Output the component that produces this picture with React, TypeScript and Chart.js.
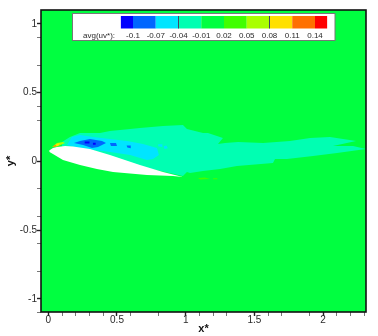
import React, { useEffect, useRef } from "react";
import { Chart, registerables } from "chart.js";

Chart.register(...registerables);

type Pair = [number, number];

// Contour levels and colours
const levelValues = [-0.1, -0.07, -0.04, -0.01, 0.02, 0.05, 0.08, 0.11, 0.14];
const levelLabels = ["-0.1", "-0.07", "-0.04", "-0.01", "0.02", "0.05", "0.08", "0.11", "0.14"];
const bandColors = ["#0000ff", "#0066ff", "#00e5ff", "#00ffb2", "#00ff40", "#40ff00", "#aaff00", "#ffe000", "#ff7000", "#ff0000"];

const xTickValues = [0, 0.1, 0.2, 0.3, 0.4, 0.5, 0.6, 0.8, 1, 1.1, 1.2, 1.3, 1.5, 1.6, 1.7, 1.9, 2, 2.1, 2.2, 2.3];
const yTickValues = [1, 0.9, 0.7, 0.5, 0.4, 0.3, 0, -0.2, -0.4, -0.5, -0.6, -0.8, -1, -1.1];
const xLabelled = [0, 0.5, 1, 1.5, 2];
const yLabelled = [-1, -0.5, 0, 0.5, 1];

const fieldOutline: Pair[] = [[-0.06, -1.11], [2.32, -1.11], [2.32, 1.11], [-0.06, 1.11]];

const mintOutline: Pair[] = [
  [0.1, 0.14], [0.158, 0.177], [0.231, 0.206], [0.376, 0.206], [0.449, 0.22], [0.667, 0.242], [0.835, 0.257],
  [0.98, 0.264], [1.009, 0.235], [1.126, 0.206], [1.162, 0.206], [1.271, 0.17], [1.235, 0.126], [1.286, 0.133],
  [1.381, 0.14], [1.563, 0.133], [1.759, 0.148], [1.905, 0.169], [2.05, 0.177], [2.24, 0.148], [2.072, 0.111],
  [2.218, 0.111], [2.312, 0.089], [2.101, 0.06], [1.927, 0.039], [1.737, 0.017], [1.65, 0.017], [1.635, -0.012],
  [1.373, -0.034], [1.25, -0.056], [1.126, -0.071], [1.031, -0.085], [1.009, -0.078], [0.98, -0.107],
  [0.5, 0.0], [0.1, 0.07],
];
const cyanOutline: Pair[] = [
  [0.136, 0.119], [0.172, 0.177], [0.231, 0.191], [0.325, 0.177], [0.449, 0.162], [0.573, 0.148], [0.689, 0.126],
  [0.791, 0.097], [0.805, 0.046], [0.762, 0.017], [0.718, 0.01], [0.595, 0.046], [0.449, 0.068], [0.231, 0.097],
];
const cyanBlobA: Pair[] = [[0.8, 0.125], [0.83, 0.125], [0.83, 0.105], [0.8, 0.11]];
const cyanBlobB: Pair[] = [[0.84, 0.11], [0.86, 0.115], [0.87, 0.095], [0.845, 0.09]];
const blueMain: Pair[] = [
  [0.187, 0.133], [0.231, 0.148], [0.303, 0.162], [0.391, 0.148], [0.42, 0.133], [0.362, 0.104], [0.318, 0.097], [0.253, 0.119],
];
const blueBlobA: Pair[] = [[0.449, 0.133], [0.493, 0.133], [0.5, 0.111], [0.456, 0.111]];
const blueBlobB: Pair[] = [[0.57, 0.115], [0.6, 0.115], [0.6, 0.095], [0.575, 0.1]];
const deepBlueA: Pair[] = [[0.265, 0.145], [0.3, 0.145], [0.3, 0.13], [0.265, 0.13]];
const deepBlueB: Pair[] = [[0.325, 0.135], [0.345, 0.135], [0.345, 0.12], [0.325, 0.12]];
const leadLime: Pair[] = [[0.027, 0.104], [0.063, 0.133], [0.107, 0.14], [0.122, 0.133], [0.063, 0.108]];
const leadYellow: Pair[] = [[0.034, 0.108], [0.063, 0.126], [0.085, 0.133], [0.071, 0.111]];
const leadOrange: Pair[] = [[0.031, 0.104], [0.049, 0.119], [0.06, 0.111]];
const wakeLimeA: Pair[] = [[1.09, -0.121], [1.14, -0.118], [1.177, -0.129], [1.105, -0.132]];
const wakeLimeB: Pair[] = [[1.2, -0.122], [1.23, -0.122], [1.23, -0.13], [1.2, -0.13]];
const airfoilOutline: Pair[] = [
  [0.007, 0.079], [0.034, 0.097], [0.063, 0.104], [0.122, 0.111], [0.18, 0.108], [0.303, 0.089], [0.449, 0.046],
  [0.558, 0.009], [0.667, -0.027], [0.835, -0.078], [0.98, -0.114], [0.908, -0.107], [0.718, -0.1], [0.471, -0.078],
  [0.354, -0.056], [0.231, -0.027], [0.107, 0.009], [0.034, 0.053], [0.009, 0.068],
];

const FONT = "'Liberation Sans', Arial, sans-serif";
const TEXT = "#2a2a2a";

const shape = (label: string, outline: Pair[], color: string) => ({
  label,
  data: outline.map(([x, y]) => ({ x, y })),
  showLine: true,
  fill: "shape",
  backgroundColor: color,
  borderWidth: 0,
  pointRadius: 0,
  pointHoverRadius: 0,
  tension: 0,
});

const isIn = (list: number[], v: number) => list.some((t) => Math.abs(t - v) < 1e-6);

const framePlugin = {
  id: "frame",
  afterDatasetsDraw(chart: any) {
    const { ctx, chartArea: a } = chart;
    ctx.save();
    ctx.strokeStyle = "#111";
    ctx.lineWidth = 1.6;
    ctx.strokeRect(a.left, a.top, a.right - a.left, a.bottom - a.top);
    ctx.restore();
  },
};

const colorbarPlugin = {
  id: "colorbar",
  afterDraw(chart: any) {
    const { ctx } = chart;
    const px = (v: number) => 133 + ((v + 0.1) / 0.03) * 22.75;
    ctx.save();
    ctx.fillStyle = "#fff";
    ctx.fillRect(72.5, 13.5, 262.5, 27);
    ctx.strokeStyle = "#777";
    ctx.lineWidth = 1;
    ctx.strokeRect(72.5, 13.5, 262.5, 27);
    const edges = [-0.116, ...levelValues, 0.156];
    bandColors.forEach((c, i) => {
      ctx.fillStyle = c;
      ctx.fillRect(px(edges[i]), 16, px(edges[i + 1]) - px(edges[i]), 12.5);
    });
    ctx.fillStyle = "#446";
    ctx.fillRect(px(-0.04) - 0.5, 16, 1, 12.5);
    ctx.fillRect(px(0.08) - 0.5, 16, 1, 12.5);
    ctx.fillStyle = TEXT;
    ctx.font = `8px ${FONT}`;
    ctx.textBaseline = "middle";
    ctx.textAlign = "center";
    levelValues.forEach((v, i) => ctx.fillText(levelLabels[i], px(v), 36));
    ctx.textAlign = "left";
    ctx.fillText("avg(uv*):", 83, 36);
    ctx.restore();
  },
};

export default function App() {
  const ref = useRef<HTMLCanvasElement>(null);
  useEffect(() => {
    if (!ref.current) return;
    const chart = new Chart(ref.current, {
      type: "scatter",
      data: {
        datasets: [
          shape("airfoil", airfoilOutline, "#ffffff"),
          shape("0.11", leadOrange, bandColors[8]),
          shape("0.08", leadYellow, bandColors[7]),
          shape("0.05", leadLime, bandColors[6]),
          shape("-0.1", deepBlueA, bandColors[0]),
          shape("-0.1", deepBlueB, bandColors[0]),
          shape("-0.07", blueMain, bandColors[1]),
          shape("-0.07", blueBlobA, bandColors[1]),
          shape("-0.07", blueBlobB, bandColors[1]),
          shape("-0.04", cyanOutline, bandColors[2]),
          shape("-0.04", cyanBlobA, bandColors[2]),
          shape("-0.04", cyanBlobB, bandColors[2]),
          shape("0.02", wakeLimeA, bandColors[5]),
          shape("0.02", wakeLimeB, bandColors[5]),
          shape("-0.01", mintOutline, bandColors[3]),
          shape("field", fieldOutline, bandColors[4]),
        ] as any,
      },
      options: {
        responsive: false,
        animation: false,
        events: [],
        layout: { padding: { top: 10, right: 12, left: 0, bottom: 0 } },
        plugins: { legend: { display: false }, tooltip: { enabled: false } },
        scales: {
          x: {
            type: "linear",
            min: -0.053,
            max: 2.312,
            afterBuildTicks: (s: any) => {
              s.ticks = xTickValues.map((value) => ({ value }));
            },
            afterFit: (s: any) => {
              s.height = 24;
            },
            grid: {
              drawOnChartArea: false,
              tickLength: 4,
              tickWidth: (c: any) => (isIn(xLabelled, c.tick.value) ? 1.4 : 1),
              tickColor: (c: any) => (isIn(xLabelled, c.tick.value) ? "#222" : "#777"),
            },
            border: { display: false },
            ticks: {
              autoSkip: false,
              maxRotation: 0,
              padding: -2,
              color: TEXT,
              font: { family: FONT, size: 10 },
              callback: (v: any) => (isIn(xLabelled, v) ? String(v) : ""),
            },
            title: {
              display: true,
              text: "x*",
              color: "#111",
              font: { family: FONT, size: 11, weight: "bold" },
              padding: { top: -1, bottom: 0 },
            },
          },
          y: {
            type: "linear",
            min: -1.095,
            max: 1.1,
            afterBuildTicks: (s: any) => {
              s.ticks = yTickValues.map((value) => ({ value }));
            },
            afterFit: (s: any) => {
              s.width = 41;
            },
            grid: {
              drawOnChartArea: false,
              tickLength: 4,
              tickWidth: (c: any) => (isIn(yLabelled, c.tick.value) ? 1.4 : 1),
              tickColor: (c: any) => (isIn(yLabelled, c.tick.value) ? "#222" : "#777"),
            },
            border: { display: false },
            ticks: {
              autoSkip: false,
              padding: 0,
              color: TEXT,
              font: { family: FONT, size: 10 },
              callback: (v: any) => (isIn(yLabelled, v) ? String(v) : ""),
            },
            title: {
              display: true,
              text: "y*",
              color: "#111",
              font: { family: FONT, size: 11, weight: "bold" },
              padding: { top: 4, bottom: 0 },
            },
          },
        },
      },
      plugins: [framePlugin, colorbarPlugin],
    } as any);
    return () => chart.destroy();
  }, []);
  return (
    <div style={{ position: "fixed", left: 0, top: 0, width: 378, height: 336, background: "#fff" }}>
      <canvas ref={ref} width={378} height={336} style={{ display: "block" }} />
    </div>
  );
}
